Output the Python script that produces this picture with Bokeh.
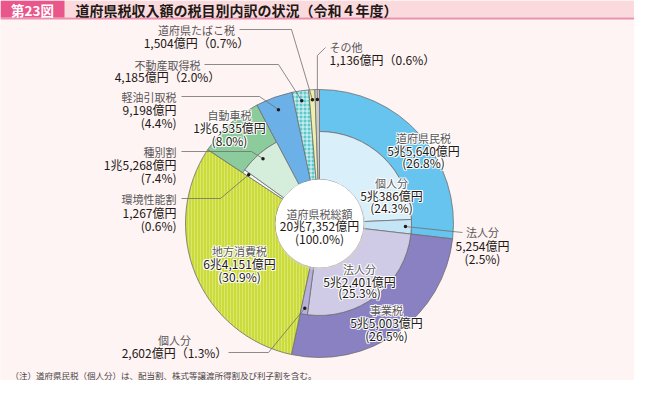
import math
from bokeh.plotting import figure
from bokeh.models import Range1d
from bokeh.core.properties import value
from bokeh.embed import file_html
from bokeh.resources import INLINE

# ---------------- data ----------------
main_names = ["道府県民税", "事業税", "地方消費税", "自動車税", "軽油引取税",
              "不動産取得税", "道府県たばこ税", "その他"]
main_values = [55640, 55003, 64151, 16535, 9198, 4185, 1504, 1136]  # 億円
main_pcts = ["26.8", "26.5", "30.9", "8.0", "4.4", "2.0", "0.7", "0.6"]

sub_parents = ["道府県民税", "道府県民税", "事業税", "事業税", "自動車税", "自動車税"]
sub_names = ["個人分", "法人分", "法人分", "個人分", "環境性能割", "種別割"]
sub_values = [50386, 5254, 52401, 2602, 1267, 15268]
sub_pcts = ["24.3", "2.5", "25.3", "1.3", "0.6", "7.4"]

total_name = "道府県税総額"
total_pct = "100.0"

title_no = "第23図"
title_text = "道府県税収入額の税目別内訳の状況（令和４年度）"
note_text = "（注）道府県民税（個人分）は、配当割、株式等譲渡所得割及び利子割を含む。"

# ---------------- styles ----------------
main_colors = ["#66c4ee", "#8a81c3", "#cbdc3a", "#8ccb9b", "#6bb1e8",
               "#5ccacd", "#edf0aa", "#cacacc"]
sub_colors = ["#d9f0fb", "#c3e5f6", "#cfcbe6", "#b6afdb", "#f3f9f4", "#d5eedc"]
FONT = value("Noto Sans CJK JP")
BG = "#fef4f4"

W, H = 634, 380
CX, CY_REF = 327, 231
R_HOLE, R_MID, R_OUT = 44, 92, 134


def Y(ref_y):
    return 396 - ref_y


CY = Y(CY_REF)

p = figure(width=W, height=H, x_range=Range1d(8, 642), y_range=Range1d(8, 388),
           x_axis_type=None, y_axis_type=None, output_backend="svg",
           toolbar_location=None, min_border=0)
p.grid.visible = False
p.outline_line_color = None
p.background_fill_color = BG
p.border_fill_color = BG

total = sum(main_values)

# cumulative fractions (clockwise from 12 o'clock)
main_f0 = []
acc = 0
for v in main_values:
    main_f0.append(acc / total)
    acc += v
main_f1 = [f + v / total for f, v in zip(main_f0, main_values)]

sub_f0, sub_f1 = [], []
cursor = {}
for par, v in zip(sub_parents, sub_values):
    i = main_names.index(par)
    start = cursor.get(par, main_f0[i])
    sub_f0.append(start)
    sub_f1.append(start + v / total)
    cursor[par] = start + v / total


def ang(f):
    return math.pi / 2 - 2 * math.pi * f


has_sub = set(sub_parents)
inner_r = [R_MID if n in has_sub else R_HOLE for n in main_names]

# outer ring
for i, n in enumerate(main_names):
    kw = {}
    if n == "地方消費税":
        kw = dict(hatch_pattern="|", hatch_color="#e6ee9a", hatch_alpha=0.55,
                  hatch_scale=3, hatch_weight=1)
    if n == "不動産取得税":
        kw = dict(hatch_pattern="+", hatch_color="white", hatch_alpha=0.8,
                  hatch_scale=4, hatch_weight=1)
    p.annular_wedge(x=CX, y=CY, inner_radius=inner_r[i], outer_radius=R_OUT,
                    start_angle=ang(main_f1[i]), end_angle=ang(main_f0[i]),
                    fill_color=main_colors[i], line_color="#6e6e6e", line_width=0.8,
                    **kw)

# inner ring
p.annular_wedge(x=CX, y=CY, inner_radius=R_HOLE, outer_radius=R_MID,
                start_angle=[ang(f) for f in sub_f1], end_angle=[ang(f) for f in sub_f0],
                fill_color=sub_colors, line_color="#6e6e6e", line_width=0.8)

# centre hole
p.circle(x=[CX + 1], y=[CY - 2], radius=R_HOLE + 1, fill_color="#d8d0d0",
         fill_alpha=0.5, line_color=None)
p.circle(x=[CX], y=[CY], radius=R_HOLE, fill_color="white", line_color=None)


def fmt(v):
    c, o = divmod(v, 10000)
    return (f"{c}兆{o:,}億円" if c else f"{o:,}億円")


def mid_point(f0, f1, r):
    a = ang((f0 + f1) / 2)
    return CX + r * math.cos(a), CY + r * math.sin(a)


mi = {n: i for i, n in enumerate(main_names)}

# label specs: (lines, x, ys_ref, align, halo)
labels = []
m = mi["道府県たばこ税"]
labels.append(([main_names[m], fmt(main_values[m]) + f"（{main_pcts[m]}%）"], 204, [37, 50], "center", False))
m = mi["不動産取得税"]
labels.append(([main_names[m], fmt(main_values[m]) + f"（{main_pcts[m]}%）"], 175, [72, 84], "center", False))
m = mi["その他"]
labels.append(([main_names[m], fmt(main_values[m]) + f"（{main_pcts[m]}%）"], 337, [54, 67], "left", False))
m = mi["軽油引取税"]
labels.append(([main_names[m], fmt(main_values[m]), f"({main_pcts[m]}%)"], 184, [104, 117, 130], "right", False))
m = mi["自動車税"]
labels.append(([main_names[m], fmt(main_values[m]), f"({main_pcts[m]}%)"], 237, [122, 135, 148], "center", True))
s = 5
labels.append(([sub_names[s], fmt(sub_values[s]), f"({sub_pcts[s]}%)"], 184, [159, 172, 185], "right", False))
s = 4
labels.append(([sub_names[s], fmt(sub_values[s]), f"({sub_pcts[s]}%)"], 184, [206, 220, 233], "right", False))
m = mi["地方消費税"]
labels.append(([main_names[m], fmt(main_values[m]), f"({main_pcts[m]}%)"], 247, [258, 271, 284], "center", True))
s = 3
labels.append(([sub_names[s], fmt(sub_values[s]) + f"（{sub_pcts[s]}%）"], 182, [347, 360], "center", False))
m = mi["道府県民税"]
labels.append(([main_names[m], fmt(main_values[m]), f"({main_pcts[m]}%)"], 431, [145, 158, 170], "center", True))
s = 0
labels.append(([sub_names[s], fmt(sub_values[s]), f"({sub_pcts[s]}%)"], 399, [190, 203, 215], "center", True))
labels.append(([total_name, fmt(total), f"({total_pct}%)"], 327, [221, 233, 246], "center", False))
s = 1
labels.append(([sub_names[s], fmt(sub_values[s]), f"({sub_pcts[s]}%)"], 490, [239, 253, 266], "center", False))
s = 2
labels.append(([sub_names[s], fmt(sub_values[s]), f"({sub_pcts[s]}%)"], 367, [276, 289, 300], "center", True))
m = mi["事業税"]
labels.append(([main_names[m], fmt(main_values[m]), f"({main_pcts[m]}%)"], 394, [317, 330, 343], "center", True))

HALO_OFF = [(-1, 0), (1, 0), (0, -1), (0, 1), (-1, -1), (1, 1), (-1, 1), (1, -1)]
for lines, x, ys, align, halo in labels:
    for k, (t, yr) in enumerate(zip(lines, ys)):
        fs = "11px" if k == 0 else "12px"
        if halo:
            p.text(x=[x] * len(HALO_OFF), y=[Y(yr)] * len(HALO_OFF), text=[t] * len(HALO_OFF),
                   x_offset=[o[0] for o in HALO_OFF], y_offset=[o[1] for o in HALO_OFF],
                   text_font=FONT, text_font_size=fs,
                   text_color="white", text_alpha=0.85,
                   text_align=align, text_baseline="middle")
        p.text(x=[x], y=[Y(yr)], text=[t], text_font=FONT, text_font_size=fs,
               text_color="#5a5657" if k == 0 else "#231815",
               text_align=align, text_baseline="middle")

# leader lines: (bend points in ref coords, dot from data)
R_DOT_OUT, R_DOT_IN = 124, 86
leaders = []
m = mi["道府県たばこ税"]
leaders.append(([(247, 37), (299, 37)], mid_point(main_f0[m], main_f1[m], R_DOT_OUT)))
m = mi["不動産取得税"]
leaders.append(([(212, 72), (286, 72)], mid_point(main_f0[m], main_f1[m], R_DOT_OUT)))
m = mi["その他"]
d = mid_point(main_f0[m], main_f1[m], R_DOT_OUT)
leaders.append(([(333, 55), (d[0], 63)], d))
m = mi["軽油引取税"]
leaders.append(([(189, 104), (267, 104)], mid_point(main_f0[m], main_f1[m], R_DOT_OUT - 3)))
leaders.append(([(189, 159), (259, 159)], mid_point(sub_f0[5], sub_f1[5], R_DOT_IN)))
leaders.append(([(189, 206), (228, 206)], mid_point(sub_f0[4], sub_f1[4], R_DOT_IN)))
leaders.append(([(236, 360), (276, 360)], mid_point(sub_f0[3], sub_f1[3], R_DOT_IN)))
leaders.append(([(470, 240)], mid_point(sub_f0[1], sub_f1[1], R_DOT_IN)))

for pts, dot in leaders:
    xs = [q[0] for q in pts] + [dot[0]]
    ys = [Y(q[1]) for q in pts] + [dot[1]]
    p.line(xs, ys, line_color="#6f6f6f", line_width=0.8)
    p.scatter([dot[0]], [dot[1]], size=3.5, fill_color="#231815", line_color=None)

# header
p.quad(left=[8], right=[642], top=[Y(8)], bottom=[Y(25)], fill_color="#fadadd", line_color=None)
p.quad(left=[8], right=[642], top=[Y(25)], bottom=[Y(27)], fill_color="#ec8fae", line_color=None)
p.quad(left=[8], right=[72], top=[Y(8)], bottom=[Y(25)], fill_color="#e9568b", line_color=None)
p.text(x=[40], y=[Y(17)], text=[title_no], text_font=FONT, text_font_size="13.5px",
       text_font_style="bold", text_color="white", text_align="center", text_baseline="middle")
p.text(x=[83], y=[Y(17)], text=[title_text], text_font=FONT, text_font_size="14px",
       text_font_style="bold", text_color="#231815", text_align="left", text_baseline="middle")

# footnote
p.text(x=[18], y=[Y(382)], text=[note_text], text_font=FONT, text_font_size="8.5px",
       text_color="#4a4546", text_align="left", text_baseline="middle")

open("out.html", "w").write(file_html(p, INLINE))
